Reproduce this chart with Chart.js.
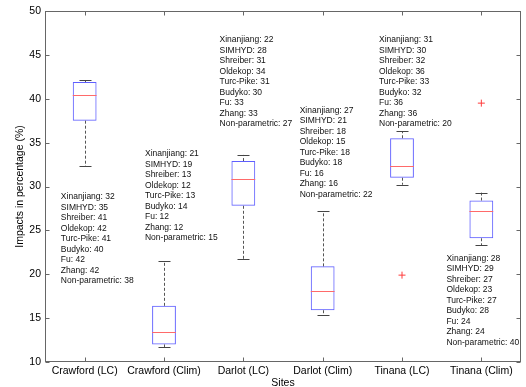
<!DOCTYPE html>
<html>
<head>
<meta charset="utf-8">
<script src="https://cdn.jsdelivr.net/npm/chart.js@4.4.1/dist/chart.umd.min.js"></script>
<style>
  html, body { margin: 0; padding: 0; background: #fff; }
  #wrap { width: 526px; height: 387px; }
</style>
</head>
<body>
<div id="wrap"><canvas id="boxes"></canvas></div>
<script>
// sites on the x axis
const sites = ["Crawford (LC)", "Crawford (Clim)", "Darlot (LC)", "Darlot (Clim)", "Tinana (LC)", "Tinana (Clim)"];

// box plot statistics (%)
const whiskerLow = [32.3, 11.7, 21.7, 15.3, 30.2, 23.3];
const q1 = [37.5, 12.0, 27.8, 15.9, 31.0, 24.1];
const median = [40.4, 13.4, 30.8, 18.1, 32.3, 27.2];
const q3 = [41.9, 16.4, 32.9, 20.9, 35.5, 28.4];
const whiskerHigh = [42.1, 21.5, 33.6, 27.2, 36.3, 29.3];
const outliers = [null, null, null, null, 19.9, 39.5];

// per-model impacts printed next to each box
const models = ["Xinanjiang", "SIMHYD", "Shreiber", "Oldekop", "Turc-Pike", "Budyko", "Fu", "Zhang", "Non-parametric"];
const crawfordLC = [32, 35, 41, 42, 41, 40, 42, 42, 38];
const crawfordClim = [21, 19, 13, 12, 13, 14, 12, 12, 15];
const darlotLC = [22, 28, 31, 34, 31, 30, 33, 33, 27];
const darlotClim = [27, 21, 18, 15, 18, 18, 16, 16, 22];
const tinanaLC = [31, 30, 32, 36, 33, 32, 36, 36, 20];
const tinanaClim = [28, 29, 27, 23, 27, 28, 24, 24, 40];
const siteImpacts = [crawfordLC, crawfordClim, darlotLC, darlotClim, tinanaLC, tinanaClim];

const yTicks = [10, 15, 20, 25, 30, 35, 40, 45, 50];

// where each text block starts: x in category units, y as axis value of first line
const noteX = [-0.30, 0.76, 1.70, 2.71, 3.71, 4.56];
const noteY = [28.8, 33.7, 46.7, 38.7, 46.7, 21.8];

const FONT = "'Liberation Sans', Arial, sans-serif";

const boxPlugin = {
  id: "boxExtras",
  afterDatasetsDraw(chart) {
    const ctx = chart.ctx;
    const x = chart.scales.x, y = chart.scales.y;
    const area = chart.chartArea;
    ctx.save();

    // whiskers and caps
    sites.forEach((s, i) => {
      const cx = Math.round(x.getPixelForValue(i)) + 0.5;
      const yLo = y.getPixelForValue(whiskerLow[i]);
      const yHi = y.getPixelForValue(whiskerHigh[i]);
      const yQ1 = y.getPixelForValue(q1[i]);
      const yQ3 = y.getPixelForValue(q3[i]);
      ctx.strokeStyle = "#555";
      ctx.lineWidth = 1;
      ctx.setLineDash([3, 2]);
      ctx.beginPath();
      ctx.moveTo(cx, yQ3); ctx.lineTo(cx, yHi);
      ctx.moveTo(cx, yQ1); ctx.lineTo(cx, yLo);
      ctx.stroke();
      ctx.setLineDash([]);
      ctx.strokeStyle = "#444";
      ctx.beginPath();
      ctx.moveTo(cx - 6, Math.round(yHi) + 0.5); ctx.lineTo(cx + 6, Math.round(yHi) + 0.5);
      ctx.moveTo(cx - 6, Math.round(yLo) + 0.5); ctx.lineTo(cx + 6, Math.round(yLo) + 0.5);
      ctx.stroke();

      // median
      const meta = chart.getDatasetMeta(0).data[i];
      const half = meta.width / 2;
      const ym = Math.round(y.getPixelForValue(median[i])) + 0.5;
      ctx.strokeStyle = "#ff6a6a";
      ctx.beginPath();
      ctx.moveTo(meta.x - half, ym); ctx.lineTo(meta.x + half, ym);
      ctx.stroke();
    });

    // frame and inward ticks, matlab style
    ctx.strokeStyle = "#666";
    ctx.lineWidth = 1;
    const L = Math.round(area.left) + 0.5, R = Math.round(area.right) - 0.5;
    const T = Math.round(area.top) + 0.5, B = Math.round(area.bottom) - 0.5;
    ctx.strokeRect(L, T, R - L, B - T);
    ctx.beginPath();
    yTicks.forEach(v => {
      const py = Math.round(y.getPixelForValue(v)) + 0.5;
      ctx.moveTo(L, py); ctx.lineTo(L + 4, py);
      ctx.moveTo(R, py); ctx.lineTo(R - 4, py);
    });
    sites.forEach((s, i) => {
      const px = Math.round(x.getPixelForValue(i)) + 0.5;
      ctx.moveTo(px, B); ctx.lineTo(px, B - 4);
      ctx.moveTo(px, T); ctx.lineTo(px, T + 4);
    });
    ctx.stroke();

    // model notes
    ctx.fillStyle = "#111";
    ctx.font = "8.5px " + FONT;
    ctx.textAlign = "left";
    ctx.textBaseline = "middle";
    const step = x.getPixelForValue(1) - x.getPixelForValue(0);
    siteImpacts.forEach((vals, i) => {
      const px = x.getPixelForValue(0) + noteX[i] * step;
      const py = y.getPixelForValue(noteY[i]);
      vals.forEach((v, k) => {
        ctx.fillText(models[k] + ": " + v, px, py + k * 10.5);
      });
    });
    ctx.restore();
  }
};

new Chart(document.getElementById("boxes"), {
  type: "bar",
  data: {
    labels: sites,
    datasets: [{
      label: "box",
      data: sites.map((s, i) => [q1[i], q3[i]]),
      backgroundColor: "rgba(0,0,0,0)",
      borderColor: "#5f5fff",
      borderWidth: 1,
      borderSkipped: false,
      barPercentage: 0.3,
      categoryPercentage: 1
    }, {
      type: "line",
      label: "outliers",
      data: outliers,
      showLine: false,
      pointStyle: "cross",
      pointRadius: 3.5,
      pointBorderColor: "#ff3b3b",
      pointBorderWidth: 1,
      pointBackgroundColor: "#ff3b3b"
    }]
  },
  options: {
    responsive: true,
    maintainAspectRatio: false,
    animation: false,
    layout: { padding: { top: 11, right: 2, left: 0, bottom: 0 } },
    plugins: { legend: { display: false }, tooltip: { enabled: false } },
    scales: {
      x: {
        grid: { display: false, drawTicks: false },
        border: { display: false },
        ticks: { color: "#000", padding: 3, font: { family: FONT, size: 10.5 }, maxRotation: 0, autoSkip: false },
        title: { display: true, text: "Sites", color: "#000", padding: { top: 0, bottom: -2 }, font: { family: FONT, size: 10.5 } },
        afterFit: s => { s.height = 25; }
      },
      y: {
        min: 10,
        max: 50,
        grid: { display: false, drawTicks: false },
        border: { display: false },
        ticks: { stepSize: 5, color: "#000", padding: 4, font: { family: FONT, size: 10.5 } },
        title: { display: true, text: "Impacts in percentage (%)", color: "#000", padding: { top: 14, bottom: 0 }, font: { family: FONT, size: 10.5 } },
        afterFit: s => { s.width = 45; }
      }
    }
  },
  plugins: [boxPlugin]
});
</script>
</body>
</html>
